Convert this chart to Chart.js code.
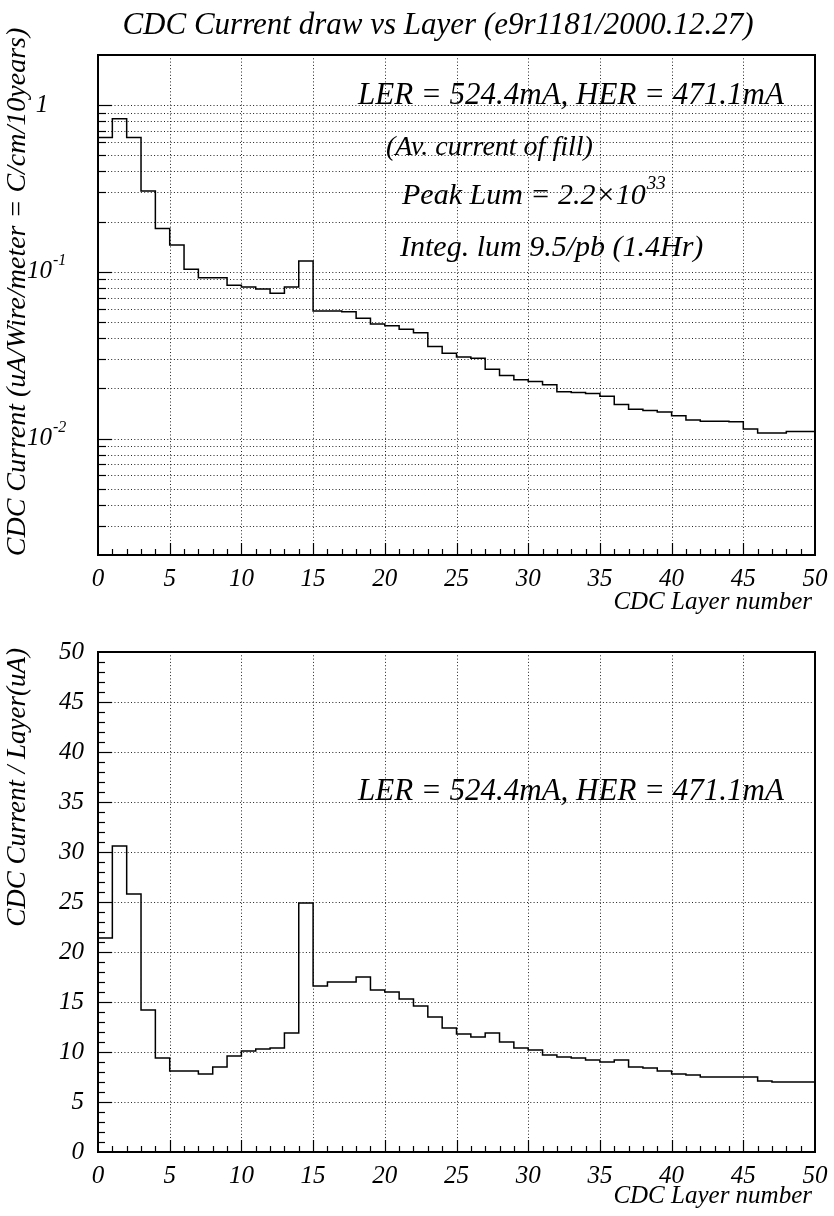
<!DOCTYPE html>
<html><head><meta charset="utf-8">
<script src="https://cdn.jsdelivr.net/npm/chart.js@4.4.1/dist/chart.umd.min.js"></script>
<style>
html,body{margin:0;padding:0;background:#fff;}
#wrap{position:relative;width:834px;height:1216px;background:#fff;}
canvas{position:absolute;left:0;}
</style></head><body>
<div id="wrap">
<canvas id="top" width="834" height="620" style="top:0px"></canvas>
<canvas id="bot" width="834" height="596" style="top:620px"></canvas>
</div>
<script>
// ---------------- data ----------------
const binLowEdges = [0,1,2,3,4,5,6,7,8,9,10,11,12,13,14,15,16,17,18,19,20,21,22,23,24,25,26,27,28,29,30,31,32,33,34,35,36,37,38,39,40,41,42,43,44,45,46,47,48,49];
const binUpperEdge = 50;
// top panel: C/cm/10years (uA/Wire/meter)
const wireCurrent = [0.64,0.83,0.64,0.306,0.182,0.145,0.1035,0.092,0.092,0.083,
  0.081,0.079,0.0743,0.081,0.116,0.0582,0.0582,0.0577,0.0526,0.0486,
  0.0475,0.0452,0.0431,0.0356,0.0325,0.0308,0.0303,0.026,0.0239,0.0225,
  0.0220,0.0210,0.0191,0.0189,0.0186,0.0179,0.0160,0.0150,0.0147,0.0144,
  0.0137,0.0129,0.0127,0.0127,0.0126,0.0114,0.0108,0.0108,0.0110,0.0110];
// bottom panel: uA per layer
const layerCurrent = [21.4,30.6,25.8,14.2,9.4,8.1,8.1,7.8,8.5,9.6,
  10.1,10.3,10.4,11.9,24.9,16.6,17.0,17.0,17.5,16.2,
  16.0,15.3,14.6,13.5,12.4,11.8,11.5,11.9,11.0,10.4,
  10.2,9.7,9.5,9.4,9.2,9.0,9.2,8.5,8.4,8.1,
  7.8,7.7,7.5,7.5,7.5,7.5,7.1,7.0,7.0,7.0];
const xTickValues = [0,5,10,15,20,25,30,35,40,45,50];
const logGridValues = [0.003,0.004,0.005,0.006,0.007,0.008,0.009,0.01,
  0.02,0.03,0.04,0.05,0.06,0.07,0.08,0.09,0.1,
  0.2,0.3,0.4,0.5,0.6,0.7,0.8,0.9,1];
const logLabelValues = [1,0.1,0.01];
const logLabelBase = ['1','10','10'];
const logLabelExp = ['','-1','-2'];
const linGridValues = [5,10,15,20,25,30,35,40,45];
const titleText = 'CDC Current draw vs Layer (e9r1181/2000.12.27)';
const topYTitle = 'CDC Current (uA/Wire/meter = C/cm/10years)';
const botYTitle = 'CDC Current / Layer(uA)';
const xTitle = 'CDC Layer number';
const topNotes = ['LER = 524.4mA, HER = 471.1mA','(Av. current of fill)','Peak Lum = 2.2\u00d710','Integ. lum 9.5/pb (1.4Hr)'];
const peakExp = '33';
const botNote = 'LER = 524.4mA, HER = 471.1mA';

function histPoints(vals){
  const pts = binLowEdges.map((x,i)=>({x:x,y:vals[i]}));
  pts.push({x:binUpperEdge,y:vals[vals.length-1]});
  return pts;
}
const FONT = '"Liberation Serif", "Times New Roman", serif';

function framePlugin(opt){
  return {
    id:'frame_'+opt.name,
    beforeDatasetsDraw(chart){
      const ctx=chart.ctx, a=chart.chartArea, xs=chart.scales.x, ys=chart.scales.y;
      ctx.save();
      ctx.strokeStyle='#222'; ctx.lineWidth=1; ctx.setLineDash([1,2.3]);
      linGridValues.forEach(v=>{const px=Math.round(xs.getPixelForValue(v))+0.5;
        ctx.beginPath();ctx.moveTo(px,a.top);ctx.lineTo(px,a.bottom);ctx.stroke();});
      opt.yGrid.forEach(v=>{const py=Math.round(ys.getPixelForValue(v))+0.5;
        ctx.beginPath();ctx.moveTo(a.left,py);ctx.lineTo(a.right,py);ctx.stroke();});
      ctx.restore();
    },
    afterDatasetsDraw(chart){
      const ctx=chart.ctx, a=chart.chartArea, xs=chart.scales.x, ys=chart.scales.y;
      ctx.save();
      ctx.strokeStyle='#000'; ctx.setLineDash([]);
      ctx.lineWidth=1.2;
      for(let v=1; v<50; v++){
        const px=Math.round(xs.getPixelForValue(v))+0.5;
        const len = (v%5===0)?12:6;
        ctx.beginPath();ctx.moveTo(px,a.bottom);ctx.lineTo(px,a.bottom-len);ctx.stroke();
      }
      opt.yTicks.forEach(t=>{
        const py=Math.round(ys.getPixelForValue(t.v))+0.5;
        ctx.beginPath();ctx.moveTo(a.left,py);ctx.lineTo(a.left+t.len,py);ctx.stroke();
      });
      ctx.lineWidth=2;
      ctx.strokeRect(a.left,a.top,a.right-a.left,a.bottom-a.top);
      ctx.restore();
    },
    afterDraw(chart){ opt.texts(chart); }
  };
}

function xScale(h){
  return {type:'linear',min:0,max:50,
    grid:{display:false},border:{display:false},
    afterBuildTicks(s){ s.ticks = xTickValues.map(v=>({value:v})); },
    afterFit(s){ s.height=h; },
    ticks:{color:'#000',padding:1,maxRotation:0,autoSkip:false,
      font:{family:FONT,style:'italic',size:25}}};
}

// ---------------- top chart ----------------
const topYTicks = logGridValues.map(v=>({v:v,len:(logLabelValues.indexOf(v)>=0)?14:8}));
new Chart(document.getElementById('top'),{
  type:'line',
  data:{datasets:[{data:histPoints(wireCurrent),stepped:'before',borderColor:'#000',
    borderWidth:1.5,pointRadius:0,fill:false}]},
  options:{responsive:false,animation:false,devicePixelRatio:1,
    layout:{padding:{top:55,right:19,left:0,bottom:0}},
    plugins:{legend:{display:false},tooltip:{enabled:false},title:{display:false}},
    scales:{
      x:xScale(65),
      y:{type:'logarithmic',min:0.002,max:2,
        grid:{display:false},border:{display:false},
        ticks:{display:false},
        afterFit(s){ s.width=98; }}
    }},
  plugins:[framePlugin({name:'top',yGrid:logGridValues,yTicks:topYTicks,texts(chart){
    const ctx=chart.ctx, a=chart.chartArea, ys=chart.scales.y;
    ctx.save(); ctx.fillStyle='#000'; ctx.textBaseline='middle';
    ctx.font='italic 31px '+FONT; ctx.textAlign='center';
    ctx.fillText(titleText,438,26);
    logLabelValues.forEach((v,i)=>{
      const py=ys.getPixelForValue(v);
      ctx.font='italic 25px '+FONT;
      if(logLabelExp[i]===''){ ctx.textAlign='center'; ctx.fillText(logLabelBase[i],42,py); }
      else{
        ctx.textAlign='right'; ctx.fillText(logLabelBase[i],52,py);
        ctx.font='italic 16px '+FONT; ctx.textAlign='left'; ctx.fillText(logLabelExp[i],53,py-11);
      }
    });
    ctx.save(); ctx.translate(18,292); ctx.rotate(-Math.PI/2);
    ctx.font='italic 28px '+FONT; ctx.textAlign='center'; ctx.fillText(topYTitle,0,0); ctx.restore();
    ctx.font='italic 25px '+FONT; ctx.textAlign='right'; ctx.fillText(xTitle,812,602);
    ctx.font='italic 31px '+FONT; ctx.textAlign='left';
    ctx.fillText(topNotes[0],358,96);
    ctx.font='italic 28px '+FONT;
    ctx.fillText(topNotes[1],386,148);
    ctx.font='italic 30px '+FONT;
    ctx.fillText(topNotes[2],402,196);
    const w=ctx.measureText(topNotes[2]).width;
    ctx.font='italic 19px '+FONT; ctx.fillText(peakExp,402+w+1,184);
    ctx.font='italic 30px '+FONT;
    ctx.fillText(topNotes[3],400,248);
    ctx.restore();
  }})]
});

// ---------------- bottom chart ----------------
const botGrid = linGridValues;
const botYTicks = [];
for(let v=1; v<50; v++) botYTicks.push({v:v,len:(v%5===0)?14:7});
new Chart(document.getElementById('bot'),{
  type:'line',
  data:{datasets:[{data:histPoints(layerCurrent),stepped:'before',borderColor:'#000',
    borderWidth:1.5,pointRadius:0,fill:false}]},
  options:{responsive:false,animation:false,devicePixelRatio:1,
    layout:{padding:{top:32,right:19,left:0,bottom:0}},
    plugins:{legend:{display:false},tooltip:{enabled:false},title:{display:false}},
    scales:{
      x:xScale(64),
      y:{type:'linear',min:0,max:50,
        grid:{display:false,drawTicks:false},border:{display:false},
        afterBuildTicks(s){ s.ticks = xTickValues.map(v=>({value:v})); },
        ticks:{color:'#000',padding:14,font:{family:FONT,style:'italic',size:25}},
        afterFit(s){ s.width=98; }}
    }},
  plugins:[framePlugin({name:'bot',yGrid:botGrid,yTicks:botYTicks,texts(chart){
    const ctx=chart.ctx, a=chart.chartArea;
    ctx.save(); ctx.fillStyle='#000'; ctx.textBaseline='middle';
    ctx.save(); ctx.translate(18,a.top-4); ctx.rotate(-Math.PI/2);
    ctx.font='italic 27px '+FONT; ctx.textAlign='right'; ctx.fillText(botYTitle,0,0); ctx.restore();
    ctx.font='italic 25px '+FONT; ctx.textAlign='right'; ctx.fillText(xTitle,812,576);
    ctx.font='italic 31px '+FONT; ctx.textAlign='left';
    ctx.fillText(botNote,358,172);
    ctx.restore();
  }})]
});
</script>
</body></html>
